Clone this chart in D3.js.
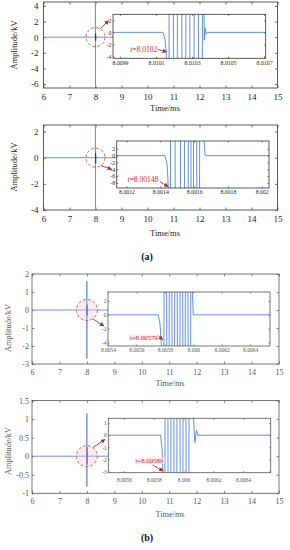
<!DOCTYPE html>
<html>
<head>
<meta charset="utf-8">
<script src="https://cdn.jsdelivr.net/npm/d3@7"></script>
<style>
  body { margin: 0; background: #fff; }
</style>
</head>
<body>
<script>
// ---------- data ----------
var timeTicks = [6, 7, 8, 9, 10, 11, 12, 13, 14, 15];
var ampTicks1 = [-6, -4, -2, 0, 2, 4];
var ampTicks2 = [-4, -2, 0, 2];
var ampTicks3 = [-3, -2, -1, 0, 1, 2];
var ampTicks4 = [-1, -0.5, 0, 0.5, 1, 1.5];

// full record, ms / kV (the burst at 8 ms)
var mainTime = [6, 7.996, 7.998, 8.0, 8.002, 8.004, 8.006, 8.008, 14.5];
var mainAmp1 = [0, 0, 6, -8, 0.5, -0.45, 0.2, 0, 0];
var mainAmp2 = [0, 0, 4, -6, 0.35, -0.45, 0.15, 0, 0];
var mainAmp3 = [0, 0, 1.6, -2.7, 0.3, -0.3, 0.12, 0, 0];
var mainAmp4 = [0, 0, 1.15, -0.82, 0.25, -0.22, 0.1, 0, 0];

// zoomed windows
var zoomTime1 = [8.009861, 8.010139, 8.01015, 8.010157, 8.01016, 8.010172, 8.010173, 8.010196, 8.010197, 8.010218, 8.010219, 8.010243, 8.010244, 8.010265, 8.010266, 8.010287, 8.010288, 8.010311, 8.010312, 8.010335, 8.010336, 8.010357, 8.010358, 8.010366, 8.010368, 8.010373, 8.010379, 8.010385, 8.010709];
var zoomAmp1 = [0, 0, -1.2, -3.5, -6, -6, 6, 6, -6, -6, 6, 6, -6, -6, 6, 6, -6, -6, 6, 6, -6, -6, 6, 6, -1.3, 0.7, -0.3, 0, 0];

var zoomTime2 = [8.001142, 8.001428, 8.00144, 8.001446, 8.001448, 8.00146, 8.001461, 8.001487, 8.001488, 8.001519, 8.00152, 8.001543, 8.001544, 8.001565, 8.001566, 8.001581, 8.001582, 8.001596, 8.001597, 8.001615, 8.001616, 8.001632, 8.001633, 8.00165, 8.001665, 8.002043];
var zoomAmp2 = [0, 0, -2.5, -8, -12, -12, 12, 12, -12, -12, 12, 12, -12, -12, 12, 12, -12, -12, 12, 12, -12, -12, 12, 12, 0, 0];

var zoomTime3 = [8.0054, 8.005754, 8.005766, 8.005776, 8.005779, 8.005793, 8.005795, 8.005812, 8.005814, 8.00583, 8.005832, 8.005849, 8.005851, 8.005868, 8.00587, 8.005887, 8.005889, 8.005906, 8.005908, 8.005925, 8.005927, 8.005943, 8.005945, 8.005962, 8.005964, 8.005981, 8.005983, 8.005988, 8.006, 8.00654];
var zoomAmp3 = [0, 0, -1.2, -4.5, -6, -6, 6, 6, -6, -6, 6, 6, -6, -6, 6, 6, -6, -6, 6, 6, -6, -6, 6, 6, -6, -6, 6, 6, 0, 0];

var zoomTime4 = [8.005495, 8.005846, 8.005855, 8.005862, 8.005864, 8.005875, 8.005876, 8.005895, 8.005896, 8.005915, 8.005916, 8.005935, 8.005936, 8.005955, 8.005956, 8.005976, 8.005977, 8.005996, 8.005997, 8.006016, 8.006017, 8.006036, 8.006037, 8.006056, 8.006076, 8.006087, 8.006097, 8.006585];
var zoomAmp4 = [0, 0, -1, -3.1, -4, -4, 4, 4, -4, -4, 4, 4, -4, -4, 4, 4, -4, -4, 4, 4, -4, -4, 4, 4, -0.6, 0.4, 0, 0];

var zoomTicksX1 = [8.0099, 8.0101, 8.0103, 8.0105, 8.0107];
var zoomTicksY1 = [-4, -2, 0, 2];
var zoomTicksX2 = [8.0012, 8.0014, 8.0016, 8.0018, 8.002];
var zoomTicksY2 = [-8, -6, -4, -2, 0, 2];
var zoomTicksX3 = [8.0054, 8.0056, 8.0058, 8.006, 8.0062, 8.0064];
var zoomTicksY3 = [-4, -2, 0, 2];
var zoomTicksX4 = [8.0056, 8.0058, 8.006, 8.0062, 8.0064];
var zoomTicksY4 = [-3, -2, -1, 0, 1];

// arrival-time marks
var arrivalLabel = ["t=8.0102", "t=8.00148", "t=8.00579", "t=8.00589"];
var arrivalTime = [8.010159, 8.001447, 8.005785, 8.005864];
var arrivalAmp = [-3.25, -9.12, -3.63, -2.96];

// ---------- drawing ----------
var serif = "'Liberation Serif', 'DejaVu Serif', serif";
var svg = d3.select("body").append("svg")
    .attr("width", 290).attr("height", 550)
    .style("font-family", serif);

var defs = svg.append("defs");
defs.append("marker").attr("id", "head")
    .attr("viewBox", "0 0 10 10").attr("refX", 9).attr("refY", 5)
    .attr("markerWidth", 4.5).attr("markerHeight", 4.5)
    .attr("markerUnits", "userSpaceOnUse").attr("orient", "auto")
  .append("path").attr("d", "M0,0L10,5L0,10z").attr("fill", "#a4302b");

var line = function (x, y) {
    return d3.line().x(d => x(d[0])).y(d => y(d[1]));
};

function frame(p) {
    var b = p.box;
    var g = svg.append("g");
    var x = d3.scaleLinear().domain(p.xDomain).range([b[0], b[2]]);
    var y = d3.scaleLinear().domain(p.yDomain).range([b[3], b[1]]);

    defs.append("clipPath").attr("id", "clip-" + p.id)
      .append("rect")
        .attr("x", b[0]).attr("y", b[1])
        .attr("width", b[2] - b[0]).attr("height", b[3] - b[1]);

    g.append("rect")
        .attr("x", b[0]).attr("y", b[1])
        .attr("width", b[2] - b[0]).attr("height", b[3] - b[1])
        .attr("fill", "#fff");

    var fmt = d => String(d);
    g.append("g").attr("transform", "translate(0," + b[3] + ")")
        .call(d3.axisBottom(x).tickValues(p.xTicks).tickSize(-p.tickLen).tickPadding(p.xPad).tickFormat(fmt));
    g.append("g").attr("transform", "translate(0," + b[1] + ")")
        .call(d3.axisTop(x).tickValues(p.xTicks).tickSize(-p.tickLen).tickFormat(""));
    g.append("g").attr("transform", "translate(" + b[0] + ",0)")
        .call(d3.axisLeft(y).tickValues(p.yTicks).tickSize(-p.tickLen).tickPadding(p.yPad).tickFormat(fmt));
    g.append("g").attr("transform", "translate(" + b[2] + ",0)")
        .call(d3.axisRight(y).tickValues(p.yTicks).tickSize(-p.tickLen).tickFormat(""));

    g.selectAll(".domain").remove();
    g.selectAll(".tick line").attr("stroke", p.axisColor).attr("stroke-width", 0.7);
    g.selectAll(".tick text")
        .attr("font-family", serif)
        .attr("font-size", p.fontSize)
        .attr("fill", p.textColor);

    g.append("path")
        .datum(d3.zip(p.t, p.v))
        .attr("clip-path", "url(#clip-" + p.id + ")")
        .attr("fill", "none")
        .attr("stroke", p.lineColor)
        .attr("stroke-width", p.lineWidth)
        .attr("d", line(x, y));

    if (p.burstFrom != null) {
        g.append("path")
            .datum(d3.zip(p.t, p.v).slice(p.burstFrom, p.burstTo))
            .attr("fill", "none")
            .attr("stroke", "#1f2f8c")
            .attr("stroke-width", 1.1)
            .attr("d", line(x, y));
    }

    g.append("rect")
        .attr("x", b[0]).attr("y", b[1])
        .attr("width", b[2] - b[0]).attr("height", b[3] - b[1])
        .attr("fill", "none").attr("stroke", p.axisColor).attr("stroke-width", 0.8);

    return { g: g, x: x, y: y };
}

function panel(p) {
    var m = frame({
        id: p.id + "m", box: p.box, xDomain: [6, 15], yDomain: p.yDomain,
        xTicks: timeTicks, yTicks: p.yTicks, t: mainTime, v: p.amp,
        burstFrom: 4, burstTo: 8,
        tickLen: 2.5, xPad: p.xPad, yPad: p.yPad, fontSize: p.fontSize,
        axisColor: p.axisColor, textColor: p.textColor,
        lineColor: "#6f92dc", lineWidth: 1
    });

    // dashed ring round the burst
    var cx = m.x(8), cy = m.y(0);
    svg.append("circle")
        .attr("cx", cx).attr("cy", cy).attr("r", p.ringR)
        .attr("fill", p.ringFill).attr("fill-opacity", p.ringOpacity)
        .attr("stroke", "#b0603a").attr("stroke-width", 0.9)
        .attr("stroke-dasharray", "3,2");

    // zoom window
    var z = frame({
        id: p.id + "z", box: p.zoomBox, xDomain: p.zoomDomainX, yDomain: p.zoomDomainY,
        xTicks: p.zoomTicksX, yTicks: p.zoomTicksY, t: p.zoomTime, v: p.zoomAmp,
        tickLen: 1.5, xPad: p.zxPad, yPad: 1.5, fontSize: p.zoomFont,
        axisColor: p.axisColor, textColor: p.textColor,
        lineColor: "#3f72cf", lineWidth: 0.8
    });

    // ring -> window arrow
    var a = p.linkAngle * Math.PI / 180;
    svg.append("line")
        .attr("x1", cx + p.ringR * Math.cos(a)).attr("y1", cy + p.ringR * Math.sin(a))
        .attr("x2", p.zoomBox[0] + p.linkEnd[0]).attr("y2", p.zoomBox[1] + p.linkEnd[1])
        .attr("stroke", "#a4302b").attr("stroke-width", 0.9)
        .attr("marker-end", "url(#head)");

    // arrival time label
    var i = p.idx;
    var tx = z.x(arrivalTime[i]), ty = z.y(arrivalAmp[i]);
    var txt = svg.append("text")
        .attr("x", tx + p.labelOff[0]).attr("y", ty + p.labelOff[1])
        .attr("dy", "0.35em")
        .attr("text-anchor", "end")
        .attr("font-size", p.labelFont)
        .attr("fill", "#d42a2a")
        .text(arrivalLabel[i]);
    if (p.labelBg) {
        var bb = txt.node().getBBox();
        svg.insert("rect", function () { return txt.node(); })
            .attr("x", bb.x - 0.5).attr("y", bb.y + 0.5)
            .attr("width", bb.width + 1).attr("height", bb.height - 1)
            .attr("fill", p.labelBg);
    }
    svg.append("line")
        .attr("x1", tx + p.arrowOff[0]).attr("y1", ty + p.arrowOff[1])
        .attr("x2", tx).attr("y2", ty)
        .attr("stroke", "#8a2a22").attr("stroke-width", 0.8)
        .attr("marker-end", "url(#head)");

    // axis titles
    svg.append("text")
        .attr("x", p.xTitle[0]).attr("y", p.xTitle[1]).attr("dy", "0.35em")
        .attr("text-anchor", "middle")
        .attr("font-size", p.titleFont).attr("fill", p.textColor)
        .text("Time/ms");
    svg.append("text")
        .attr("transform", "translate(" + p.yTitle[0] + "," + p.yTitle[1] + ") rotate(-90)")
        .attr("dy", "0.35em")
        .attr("text-anchor", "middle")
        .attr("font-size", p.titleFont).attr("fill", p.textColor)
        .text("Amplitude/kV");
}

var styleA = { fontSize: 9, titleFont: 8.5, zoomFont: 5.8, labelFont: 7.5, axisColor: "#333", textColor: "#222",
               xPad: 5.5, yPad: 5, ringR: 9.5, ringFill: "none", ringOpacity: 1, labelBg: null };
var styleB = { fontSize: 8, titleFont: 8.3, zoomFont: 5.5, labelFont: 6.8, axisColor: "#555", textColor: "#555",
               xPad: 5.5, yPad: 3, ringR: 10.5, ringFill: "#f7c9d8", ringOpacity: 0.35, labelBg: "#fdebf1" };

panel(Object.assign({}, styleA, {
    id: "p1", idx: 0, box: [43.5, 2, 277.5, 88], yDomain: [-6.5, 4.5], yTicks: ampTicks1, amp: mainAmp1,
    zoomBox: [113, 14.3, 265.7, 58.3], zoomDomainX: [8.009861, 8.010709], zoomDomainY: [-4.3, 3],
    zoomTicksX: zoomTicksX1, zoomTicksY: zoomTicksY1, zoomTime: zoomTime1, zoomAmp: zoomAmp1, zxPad: 2.5,
    linkAngle: -60, linkEnd: [-4.5, 6.2], labelOff: [-9.5, -2.7], arrowOff: [-9, -2.5],
    xTitle: [165, 108], yTitle: [14.5, 45]
}));

panel(Object.assign({}, styleA, {
    id: "p2", idx: 1, box: [43.5, 125, 277.5, 210], yDomain: [-4, 2.5], yTicks: ampTicks2, amp: mainAmp2,
    zoomBox: [116.7, 141, 269, 188], zoomDomainX: [8.001142, 8.002043], zoomDomainY: [-9.5, 4.3],
    zoomTicksX: zoomTicksX2, zoomTicksY: zoomTicksY2, zoomTime: zoomTime2, zoomAmp: zoomAmp2, zxPad: 1.5,
    linkAngle: 56, linkEnd: [-5, 28.3], labelOff: [-10, -7.7], arrowOff: [-8.3, -5],
    xTitle: [165, 233], yTitle: [14.5, 167]
}));

panel(Object.assign({}, styleB, {
    id: "p3", idx: 2, box: [32, 274, 279, 364], yDomain: [-3, 2], yTicks: ampTicks3, amp: mainAmp3,
    zoomBox: [108, 292, 270, 346], zoomDomainX: [8.0054, 8.00654], zoomDomainY: [-4.5, 3.3],
    zoomTicksX: zoomTicksX3, zoomTicksY: zoomTicksY3, zoomTime: zoomTime3, zoomAmp: zoomAmp3, zxPad: 1.8,
    linkAngle: 57, linkEnd: [-4, 34], labelOff: [-5, -2.5], arrowOff: [-4.5, -4.5],
    xTitle: [170, 382.7], yTitle: [8.3, 328]
}));

panel(Object.assign({}, styleB, {
    id: "p4", idx: 3, box: [32, 400.5, 279, 493.3], yDomain: [-1, 1.5], yTicks: ampTicks4, amp: mainAmp4,
    zoomBox: [108.3, 418.3, 270.7, 472.7], zoomDomainX: [8.005495, 8.006585], zoomDomainY: [-3.1, 1.4],
    zoomTicksX: zoomTicksX4, zoomTicksY: zoomTicksY4, zoomTime: zoomTime4, zoomAmp: zoomAmp4, zxPad: 5,
    linkAngle: -55, linkEnd: [-3.3, 21], labelOff: [0, -10], arrowOff: [-10.6, -6],
    xTitle: [170, 514], yTitle: [8.3, 451]
}));

// sub-figure letters
[["(a)", 256], ["(b)", 537]].forEach(function (d) {
    svg.append("text")
        .attr("x", 147).attr("y", d[1]).attr("dy", "0.35em")
        .attr("text-anchor", "middle")
        .attr("font-size", 10).attr("font-weight", "bold").attr("fill", "#111")
        .text(d[0]);
});
</script>
</body>
</html>
